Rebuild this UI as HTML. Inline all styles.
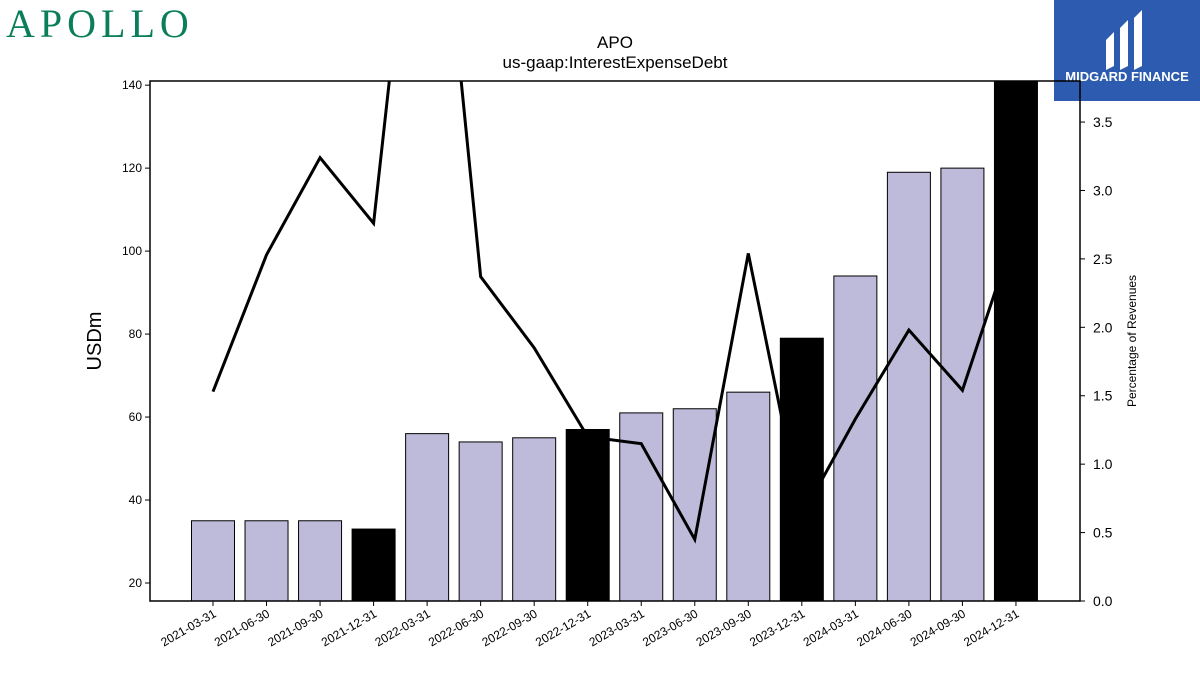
<!DOCTYPE html>
<html><head><meta charset="utf-8"><style>
body{margin:0;background:#fff;font-family:"Liberation Sans","DejaVu Sans",sans-serif;}
#wrap{position:relative;width:1200px;height:675px;overflow:hidden;}
</style></head><body>
<div id="wrap">
<div style="position:absolute;left:6px;top:0px;font-family:'Liberation Serif',serif;font-size:40px;color:#0a7d5a;letter-spacing:5px;">APOLLO</div>
<div style="position:absolute;left:1054px;top:0;width:146px;height:101px;background:#2d5bb0;color:#fff;">
<svg width="146" height="70"><path d="M52 40 L60 32 L60 66 L52 70 Z M66 28 L74 20 L74 66 L66 70 Z M80 18 L88 10 L88 66 L80 70 Z" fill="#fff"/></svg>
<div style="position:absolute;left:0;width:146px;top:69px;text-align:center;font-weight:bold;font-size:13px;">MIDGARD FINANCE</div>
</div>
<svg id="chart" width="1200" height="675" style="position:absolute;left:0;top:0">
<text x="615" y="48" text-anchor="middle" font-size="17">APO</text>
<text x="615" y="68" text-anchor="middle" font-size="17">us-gaap:InterestExpenseDebt</text>
<text transform="translate(101,341) rotate(-90)" text-anchor="middle" font-size="20">USDm</text>
<text transform="translate(1136,341) rotate(-90)" text-anchor="middle" font-size="12">Percentage of Revenues</text>
<g id="bars"></g><g id="line"></g><g id="axes"></g>
</svg>
</div>
<script>
const categories=["2021-03-31","2021-06-30","2021-09-30","2021-12-31","2022-03-31","2022-06-30","2022-09-30","2022-12-31","2023-03-31","2023-06-30","2023-09-30","2023-12-31","2024-03-31","2024-06-30","2024-09-30","2024-12-31"];
const expense=[35,35,35,33,56,54,55,57,61,62,66,79,94,119,120,145];
const pctRevenue=[1.53,2.53,3.24,2.76,6.3,2.37,1.85,1.20,1.15,0.45,2.54,0.62,1.33,1.98,1.54,2.72];
const yTicks=[20,40,60,80,100,120,140];
const y2Ticks=[0,0.5,1,1.5,2,2.5,3,3.5];
const L=150,R=1080,T=81,B=601;
const yMin=15.66,yMax=141,y2Max=3.8;
const NS="http://www.w3.org/2000/svg";
const y=v=>B-(v-yMin)/(yMax-yMin)*(B-T);
const y2=v=>B-v/y2Max*(B-T);
const x=i=>213+i*53.53;
function el(t,a,p){const e=document.createElementNS(NS,t);for(const k in a)e.setAttribute(k,a[k]);document.getElementById(p).appendChild(e);return e;}
const defs=el('clipPath',{id:'clip'},'chart');
const cr=document.createElementNS(NS,'rect');cr.setAttribute('x',L);cr.setAttribute('y',T);cr.setAttribute('width',R-L);cr.setAttribute('height',B-T);defs.appendChild(cr);
document.getElementById('bars').setAttribute('clip-path','url(#clip)');
document.getElementById('line').setAttribute('clip-path','url(#clip)');
categories.forEach((c,i)=>{
 const dark=c.endsWith('12-31');
 const top=y(expense[i]);
 const r=el('rect',{x:x(i)-21.5,y:top,width:43,height:B-top,fill:dark?'#000':'#bebad9',stroke:'#000','stroke-width':1},'bars');
 
 
 const t=el('text',{transform:`translate(${x(i)+4},${616}) rotate(-30)`,'text-anchor':'end','font-size':12},'axes');
 t.textContent=c;
 
 
 el('line',{x1:x(i),x2:x(i),y1:B,y2:B+5,stroke:'#000'},'axes');
});
const pts=pctRevenue.map((v,i)=>x(i)+','+y2(v)).join(' ');
const pl=el('polyline',{points:pts,fill:'none',stroke:'#000','stroke-width':3,'stroke-linejoin':'miter'},'line');


const frame=el('rect',{x:L,y:T,width:R-L,height:B-T,fill:'none',stroke:'#000','stroke-width':1.5},'axes');


yTicks.forEach(v=>{
 el('line',{x1:L-5,x2:L,y1:y(v),y2:y(v),stroke:'#000'},'axes');
 const t=el('text',{x:L-8,y:y(v)+4,'text-anchor':'end','font-size':12},'axes');
 t.textContent=v;
 
 
});
y2Ticks.forEach(v=>{
 el('line',{x1:R,x2:R+5,y1:y2(v),y2:y2(v),stroke:'#000'},'axes');
 const t=el('text',{x:R+13,y:y2(v)+5,'font-size':14},'axes');
 t.textContent=v.toFixed(1);
 
 
});
</script>
</body></html>
